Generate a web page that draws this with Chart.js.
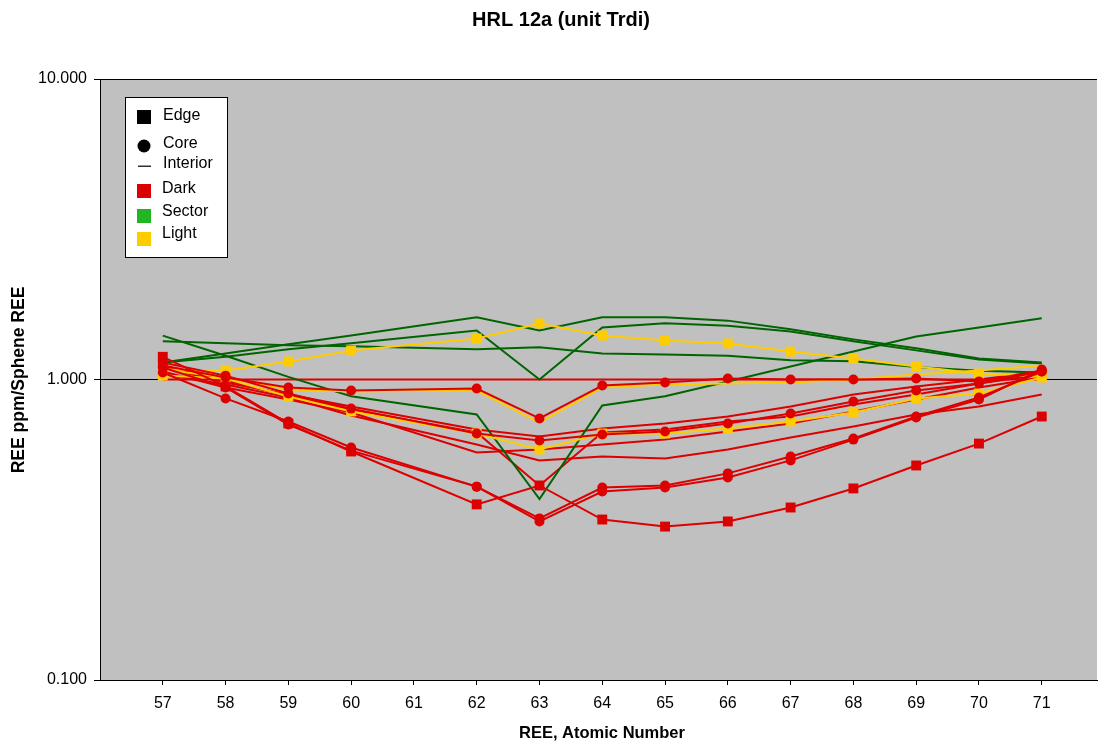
<!DOCTYPE html>
<html>
<head>
<meta charset="utf-8">
<title>HRL 12a (unit Trdi)</title>
<script src="https://cdn.jsdelivr.net/npm/chart.js@4.4.1/dist/chart.umd.min.js"></script>
<style>
  html, body { margin: 0; padding: 0; background: #ffffff; }
  #wrap { width: 1099px; height: 746px; }
</style>
</head>
<body>
<div id="wrap"><canvas id="chart" width="1099" height="746"></canvas></div>
<script>
// Atomic numbers of the measured REE (Pm, 61, has no data)
const atomicNumbers = [57, 58, 59, 60, 62, 63, 64, 65, 66, 67, 68, 69, 70, 71];
const xTickNumbers = [57, 58, 59, 60, 61, 62, 63, 64, 65, 66, 67, 68, 69, 70, 71];
const yTickValues = [0.1, 1, 10];

// Sector zones, interior analyses
const sectorInteriorA = [1.40, 1.20, 1.02, 0.88, 0.765, 0.40, 0.82, 0.88, 0.985, 1.105, 1.24, 1.39, 1.49, 1.60];
const sectorInteriorB = [1.34, 1.32, 1.30, 1.29, 1.26, 1.28, 1.22, 1.21, 1.20, 1.16, 1.15, 1.10, 1.07, 1.055];
const sectorInteriorC = [1.14, 1.22, 1.31, 1.40, 1.61, 1.455, 1.61, 1.61, 1.57, 1.47, 1.36, 1.27, 1.175, 1.14];
const sectorInteriorD = [1.14, 1.19, 1.26, 1.32, 1.455, 1.00, 1.49, 1.54, 1.51, 1.445, 1.34, 1.25, 1.165, 1.13];

// Dark zones
const darkReference = [1, 1, 1, 1, 1, 1, 1, 1, 1, 1, 1, 1, 1, 1];
const darkCoreA = [1.055, 0.865, 0.725, 0.594, 0.44, 0.345, 0.437, 0.444, 0.487, 0.554, 0.636, 0.753, 0.871, 1.063];
const darkCoreB = [1.096, 0.941, 0.708, 0.58, 0.44, 0.337, 0.424, 0.437, 0.472, 0.538, 0.631, 0.747, 0.858, 1.08];
const darkCoreC = [1.14, 1.03, 0.898, 0.80, 0.661, 0.627, 0.656, 0.671, 0.714, 0.771, 0.845, 0.919, 0.97, 1.063];
const darkCoreD = [1.113, 1.015, 0.941, 0.919, 0.933, 0.742, 0.955, 0.977, 1.008, 1.0, 1.0, 1.008, 0.985, 1.071];
const darkEdgeA = [1.19, 0.948, 0.714, 0.576, 0.384, 0.444, 0.342, 0.324, 0.337, 0.375, 0.434, 0.5175, 0.612, 0.753];
const darkInteriorA = [1.096, 0.977, 0.891, 0.813, 0.682, 0.646, 0.687, 0.714, 0.753, 0.813, 0.891, 0.948, 1.0, 1.063];
const darkInteriorB = [1.113, 0.992, 0.885, 0.795, 0.666, 0.444, 0.666, 0.682, 0.725, 0.753, 0.826, 0.891, 0.97, 1.039];
const darkInteriorC = [1.063, 0.941, 0.858, 0.777, 0.572, 0.585, 0.608, 0.631, 0.671, 0.714, 0.783, 0.858, 0.941, 1.015];
const darkInteriorD = [1.039, 0.962, 0.871, 0.759, 0.608, 0.538, 0.554, 0.546, 0.585, 0.641, 0.698, 0.765, 0.813, 0.891];

// Light zones
const lightEdgeA = [1.08, 1.071, 1.148, 1.249, 1.369, 1.536, 1.401, 1.348, 1.318, 1.239, 1.175, 1.105, 1.047, 1.023];
const lightEdgeB = [1.031, 1.008, 0.878, 0.783, 0.661, 0.585, 0.661, 0.661, 0.687, 0.725, 0.777, 0.865, 0.898, 1.015];
const lightInterior = [1.08, 1.015, 0.926, 0.912, 0.919, 0.719, 0.941, 0.962, 0.97, 0.977, 1.0, 1.039, 1.071, 1.113];

const FONT = '"Liberation Sans", Arial, Helvetica, sans-serif';
const RED = '#DD0000';
const GREEN_LINE = '#006400';
const GREEN_KEY = '#22B522';
const YELLOW = '#FFCC00';
const PLOT_BG = '#C0C0C0';

function toPoints(values) {
  return atomicNumbers.map((x, i) => ({ x: x, y: values[i] }));
}

// marker: 'rect' (edge), 'circle' (core) or null (interior, line only)
function series(label, values, color, marker) {
  const r = marker === 'rect' ? 7 : (marker === 'circle' ? 5 : 0);
  return {
    label: label,
    data: toPoints(values),
    showLine: true,
    tension: 0,
    borderColor: color,
    backgroundColor: color,
    borderWidth: 2,
    pointStyle: marker || 'circle',
    pointRadius: r,
    pointHoverRadius: r,
    pointBorderWidth: 0,
    pointBackgroundColor: color
  };
}

// first dataset is painted on top
const datasets = [
  series('Dark core A', darkCoreA, RED, 'circle'),
  series('Dark core B', darkCoreB, RED, 'circle'),
  series('Dark core C', darkCoreC, RED, 'circle'),
  series('Dark core D', darkCoreD, RED, 'circle'),
  series('Dark edge A', darkEdgeA, RED, 'rect'),
  series('Light edge A', lightEdgeA, YELLOW, 'rect'),
  series('Light edge B', lightEdgeB, YELLOW, 'rect'),
  series('Light interior', lightInterior, YELLOW, null),
  series('Sector interior A', sectorInteriorA, GREEN_LINE, null),
  series('Sector interior B', sectorInteriorB, GREEN_LINE, null),
  series('Sector interior C', sectorInteriorC, GREEN_LINE, null),
  series('Sector interior D', sectorInteriorD, GREEN_LINE, null),
  series('Dark interior A', darkInteriorA, RED, null),
  series('Dark interior B', darkInteriorB, RED, null),
  series('Dark interior C', darkInteriorC, RED, null),
  series('Dark interior D', darkInteriorD, RED, null),
  series('Dark reference', darkReference, RED, null)
];

// legend entries: marker shapes first, then zone colours
const legendEntries = [
  { text: 'Edge', kind: 'square', color: '#000000' },
  { text: 'Core', kind: 'circle', color: '#000000' },
  { text: 'Interior', kind: 'dash', color: '#000000' },
  { text: 'Dark', kind: 'square', color: RED },
  { text: 'Sector', kind: 'square', color: GREEN_KEY },
  { text: 'Light', kind: 'square', color: YELLOW }
];

const decorations = {
  id: 'decorations',
  beforeDraw(chart) {
    const { ctx, chartArea: a } = chart;
    ctx.save();
    ctx.fillStyle = PLOT_BG;
    ctx.fillRect(a.left, a.top, a.right - a.left, a.bottom - a.top);
    ctx.restore();
  },
  afterDraw(chart) {
    const ctx = chart.ctx;
    ctx.save();
    ctx.fillStyle = '#000';
    ctx.textBaseline = 'middle';
    ctx.textAlign = 'center';

    // chart title
    ctx.font = 'bold 20px ' + FONT;
    ctx.fillText('HRL 12a (unit Trdi)', 561, 20);

    // axis titles
    ctx.font = 'bold 16.5px ' + FONT;
    ctx.fillText('REE, Atomic Number', 602, 733);
    ctx.save();
    ctx.translate(19, 380);
    ctx.rotate(-Math.PI / 2);
    ctx.font = 'bold 17.5px ' + FONT;
    ctx.fillText('REE ppm/Sphene REE', 0, 0);
    ctx.restore();

    // legend box
    const bx = 125, by = 97, bw = 102, bh = 160;
    ctx.fillStyle = '#ffffff';
    ctx.fillRect(bx, by, bw, bh);
    ctx.strokeStyle = '#000';
    ctx.lineWidth = 1;
    ctx.strokeRect(bx + 0.5, by + 0.5, bw, bh);

    const rowY = [117, 146, 166, 191, 216, 239];
    const textY = [116, 144, 164, 189, 212, 234];
    const textX = [163, 163, 163, 162, 162, 162];
    ctx.font = '16px ' + FONT;
    ctx.textAlign = 'left';
    legendEntries.forEach((e, i) => {
      const cx = 144, cy = rowY[i];
      ctx.fillStyle = e.color;
      if (e.kind === 'square') {
        ctx.fillRect(cx - 7, cy - 7, 14, 14);
      } else if (e.kind === 'circle') {
        ctx.beginPath();
        ctx.arc(cx, cy, 6.5, 0, Math.PI * 2);
        ctx.fill();
      } else {
        ctx.fillStyle = '#333';
        ctx.fillRect(cx - 6, cy - 0.5, 13, 1.5);
      }
      ctx.fillStyle = '#000';
      ctx.fillText(e.text, textX[i], textY[i]);
    });
    ctx.restore();
  }
};

Chart.defaults.font.family = FONT;
Chart.defaults.font.size = 16;
Chart.defaults.color = '#000';

new Chart(document.getElementById('chart'), {
  type: 'scatter',
  data: { datasets: datasets },
  options: {
    responsive: false,
    devicePixelRatio: 1,
    animation: false,
    layout: { autoPadding: false, padding: { top: 79, right: 2, left: 0, bottom: 0 } },
    plugins: {
      legend: { display: false },
      title: { display: false },
      tooltip: { enabled: false }
    },
    scales: {
      x: {
        type: 'linear',
        min: 56,
        max: 71.88,
        afterBuildTicks: (scale) => { scale.ticks = xTickNumbers.map(v => ({ value: v })); },
        afterFit: (scale) => {
          scale.height = 66;
          scale.paddingLeft = 0;
          scale.paddingRight = 0;
        },
        grid: { drawOnChartArea: false, drawTicks: true, tickLength: 5, tickColor: '#000' },
        border: { display: true, color: '#000', width: 1 },
        ticks: {
          padding: 9,
          autoSkip: false,
          maxRotation: 0,
          font: { size: 16 },
          color: '#000',
          callback: (v) => String(v)
        }
      },
      y: {
        type: 'logarithmic',
        min: 0.1,
        max: 10,
        afterBuildTicks: (scale) => { scale.ticks = yTickValues.map(v => ({ value: v })); },
        afterFit: (scale) => {
          scale.width = 100;
          scale.paddingLeft = 0;
          scale.paddingRight = 0;
        },
        grid: { color: '#000', lineWidth: 1, drawTicks: true, tickLength: 6, tickColor: '#000' },
        border: { display: true, color: '#000', width: 1 },
        ticks: {
          padding: 7,
          autoSkip: false,
          font: { size: 16 },
          color: '#000',
          callback: (v) => Number(v).toFixed(3)
        }
      }
    }
  },
  plugins: [decorations]
});
</script>
</body>
</html>
